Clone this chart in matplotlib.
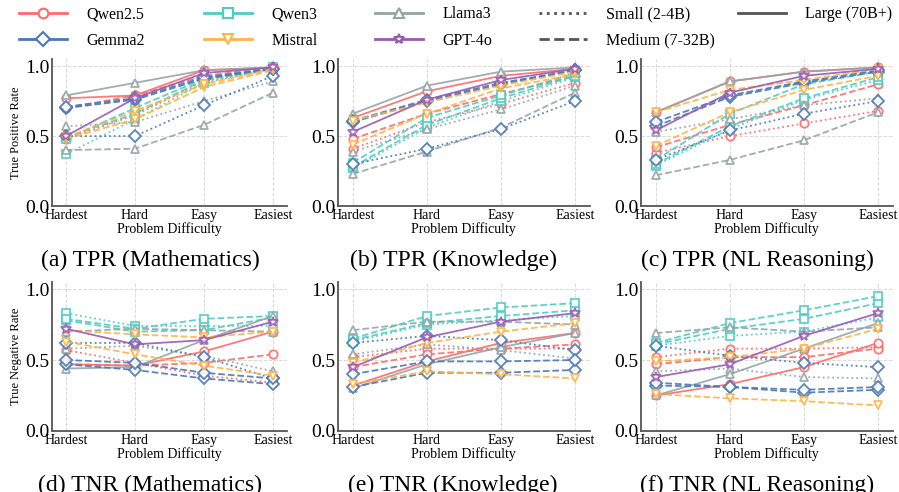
import matplotlib.pyplot as plt
from matplotlib.lines import Line2D

plt.rcParams['font.family'] = ['Liberation Serif', 'DejaVu Serif']

difficulty = ['Hardest', 'Hard', 'Easy', 'Easiest']

# model -> (family, size class)
models = {
    'Qwen2.5-3B':  ('Qwen2.5', 'Small'),
    'Qwen2.5-7B':  ('Qwen2.5', 'Medium'),
    'Qwen2.5-72B': ('Qwen2.5', 'Large'),
    'Qwen3-4B':    ('Qwen3', 'Small'),
    'Qwen3-8B':    ('Qwen3', 'Medium'),
    'Qwen3-32B':   ('Qwen3', 'Medium'),
    'Llama3-3B':   ('Llama3', 'Small'),
    'Llama3-8B':   ('Llama3', 'Medium'),
    'Llama3-70B':  ('Llama3', 'Large'),
    'Gemma2-2B':   ('Gemma2', 'Small'),
    'Gemma2-9B':   ('Gemma2', 'Medium'),
    'Gemma2-27B':  ('Gemma2', 'Medium'),
    'Mistral-7B':  ('Mistral', 'Medium'),
    'Mistral-24B': ('Mistral', 'Medium'),
    'GPT-4o':      ('GPT-4o', 'Large'),
}

tpr_math = {
    'Qwen2.5-3B':  [0.48, 0.65, 0.89, 0.98],
    'Qwen2.5-7B':  [0.70, 0.79, 0.93, 0.99],
    'Qwen2.5-72B': [0.77, 0.79, 0.97, 0.99],
    'Qwen3-4B':    [0.37, 0.62, 0.88, 0.98],
    'Qwen3-8B':    [0.49, 0.66, 0.90, 0.98],
    'Qwen3-32B':   [0.48, 0.70, 0.91, 0.99],
    'Llama3-3B':   [0.57, 0.60, 0.75, 0.89],
    'Llama3-8B':   [0.40, 0.41, 0.58, 0.81],
    'Llama3-70B':  [0.79, 0.88, 0.97, 0.99],
    'Gemma2-2B':   [0.50, 0.50, 0.72, 0.93],
    'Gemma2-9B':   [0.70, 0.76, 0.91, 0.98],
    'Gemma2-27B':  [0.71, 0.77, 0.92, 0.98],
    'Mistral-7B':  [0.48, 0.62, 0.85, 0.97],
    'Mistral-24B': [0.49, 0.68, 0.87, 0.98],
    'GPT-4o':      [0.50, 0.77, 0.95, 0.99],
}

tpr_know = {
    'Qwen2.5-3B':  [0.41, 0.60, 0.73, 0.88],
    'Qwen2.5-7B':  [0.48, 0.66, 0.80, 0.93],
    'Qwen2.5-72B': [0.63, 0.82, 0.93, 0.98],
    'Qwen3-4B':    [0.27, 0.56, 0.75, 0.92],
    'Qwen3-8B':    [0.28, 0.58, 0.77, 0.93],
    'Qwen3-32B':   [0.31, 0.63, 0.79, 0.95],
    'Llama3-3B':   [0.39, 0.55, 0.69, 0.86],
    'Llama3-8B':   [0.23, 0.39, 0.56, 0.81],
    'Llama3-70B':  [0.66, 0.86, 0.96, 0.99],
    'Gemma2-2B':   [0.30, 0.41, 0.55, 0.75],
    'Gemma2-9B':   [0.60, 0.75, 0.87, 0.97],
    'Gemma2-27B':  [0.61, 0.76, 0.88, 0.97],
    'Mistral-7B':  [0.44, 0.66, 0.84, 0.94],
    'Mistral-24B': [0.61, 0.74, 0.86, 0.96],
    'GPT-4o':      [0.53, 0.76, 0.90, 0.98],
}

tpr_nl = {
    'Qwen2.5-3B':  [0.38, 0.50, 0.59, 0.68],
    'Qwen2.5-7B':  [0.42, 0.58, 0.72, 0.87],
    'Qwen2.5-72B': [0.67, 0.89, 0.96, 0.99],
    'Qwen3-4B':    [0.29, 0.55, 0.76, 0.90],
    'Qwen3-8B':    [0.30, 0.57, 0.77, 0.92],
    'Qwen3-32B':   [0.33, 0.66, 0.87, 0.96],
    'Llama3-3B':   [0.53, 0.62, 0.72, 0.77],
    'Llama3-8B':   [0.22, 0.33, 0.47, 0.67],
    'Llama3-70B':  [0.67, 0.89, 0.96, 0.99],
    'Gemma2-2B':   [0.33, 0.54, 0.66, 0.75],
    'Gemma2-9B':   [0.57, 0.78, 0.88, 0.96],
    'Gemma2-27B':  [0.60, 0.79, 0.89, 0.97],
    'Mistral-7B':  [0.43, 0.67, 0.83, 0.93],
    'Mistral-24B': [0.67, 0.83, 0.90, 0.98],
    'GPT-4o':      [0.54, 0.81, 0.93, 0.98],
}

tnr_math = {
    'Qwen2.5-3B':  [0.57, 0.48, 0.39, 0.34],
    'Qwen2.5-7B':  [0.47, 0.46, 0.48, 0.54],
    'Qwen2.5-72B': [0.47, 0.46, 0.56, 0.70],
    'Qwen3-4B':    [0.83, 0.74, 0.74, 0.74],
    'Qwen3-8B':    [0.78, 0.70, 0.71, 0.80],
    'Qwen3-32B':   [0.79, 0.72, 0.79, 0.81],
    'Llama3-3B':   [0.58, 0.60, 0.53, 0.42],
    'Llama3-8B':   [0.70, 0.72, 0.71, 0.70],
    'Llama3-70B':  [0.44, 0.45, 0.64, 0.81],
    'Gemma2-2B':   [0.62, 0.62, 0.52, 0.37],
    'Gemma2-9B':   [0.47, 0.43, 0.37, 0.33],
    'Gemma2-27B':  [0.50, 0.48, 0.41, 0.37],
    'Mistral-7B':  [0.63, 0.54, 0.46, 0.39],
    'Mistral-24B': [0.71, 0.68, 0.66, 0.70],
    'GPT-4o':      [0.72, 0.61, 0.64, 0.77],
}

tnr_know = {
    'Qwen2.5-3B':  [0.52, 0.58, 0.58, 0.58],
    'Qwen2.5-7B':  [0.45, 0.54, 0.58, 0.61],
    'Qwen2.5-72B': [0.32, 0.49, 0.62, 0.69],
    'Qwen3-4B':    [0.63, 0.75, 0.78, 0.81],
    'Qwen3-8B':    [0.64, 0.76, 0.81, 0.85],
    'Qwen3-32B':   [0.65, 0.81, 0.87, 0.90],
    'Llama3-3B':   [0.54, 0.61, 0.57, 0.51],
    'Llama3-8B':   [0.71, 0.77, 0.77, 0.75],
    'Llama3-70B':  [0.30, 0.47, 0.59, 0.69],
    'Gemma2-2B':   [0.62, 0.67, 0.64, 0.57],
    'Gemma2-9B':   [0.31, 0.41, 0.41, 0.43],
    'Gemma2-27B':  [0.40, 0.49, 0.49, 0.50],
    'Mistral-7B':  [0.33, 0.42, 0.40, 0.37],
    'Mistral-24B': [0.48, 0.62, 0.70, 0.76],
    'GPT-4o':      [0.45, 0.66, 0.77, 0.83],
}

tnr_nl = {
    'Qwen2.5-3B':  [0.52, 0.58, 0.58, 0.59],
    'Qwen2.5-7B':  [0.47, 0.52, 0.52, 0.58],
    'Qwen2.5-72B': [0.25, 0.33, 0.45, 0.62],
    'Qwen3-4B':    [0.60, 0.67, 0.70, 0.80],
    'Qwen3-8B':    [0.61, 0.72, 0.79, 0.90],
    'Qwen3-32B':   [0.62, 0.76, 0.85, 0.95],
    'Llama3-3B':   [0.42, 0.44, 0.38, 0.37],
    'Llama3-8B':   [0.69, 0.73, 0.70, 0.73],
    'Llama3-70B':  [0.25, 0.40, 0.58, 0.76],
    'Gemma2-2B':   [0.60, 0.53, 0.48, 0.45],
    'Gemma2-9B':   [0.32, 0.31, 0.27, 0.29],
    'Gemma2-27B':  [0.34, 0.31, 0.29, 0.31],
    'Mistral-7B':  [0.26, 0.23, 0.21, 0.18],
    'Mistral-24B': [0.49, 0.52, 0.58, 0.72],
    'GPT-4o':      [0.38, 0.47, 0.67, 0.83],
}

family_color = {
    'Qwen2.5': '#FF6B6B',
    'Qwen3':   '#4ECDC4',
    'Llama3':  '#95A5A6',
    'Gemma2':  '#4A78B4',
    'Mistral': '#FFB347',
    'GPT-4o':  '#9B59B6',
}
family_marker = {
    'Qwen2.5': 'o', 'Qwen3': 's', 'Llama3': '^',
    'Gemma2': 'D', 'Mistral': 'v', 'GPT-4o': '*',
}
size_style = {'Small': ':', 'Medium': '--', 'Large': '-'}
size_label = {'Small': 'Small (2-4B)', 'Medium': 'Medium (7-32B)', 'Large': 'Large (70B+)'}

panels = [
    (tpr_math, '(a) TPR (Mathematics)', 'True Positive Rate'),
    (tpr_know, '(b) TPR (Knowledge)', None),
    (tpr_nl, '(c) TPR (NL Reasoning)', None),
    (tnr_math, '(d) TNR (Mathematics)', 'True Negative Rate'),
    (tnr_know, '(e) TNR (Knowledge)', None),
    (tnr_nl, '(f) TNR (NL Reasoning)', None),
]

fig = plt.figure(figsize=(8.99, 4.92), dpi=100)

col_left = [0.058, 0.376, 0.713]
col_width = [0.261, 0.280, 0.280]
row_bottom = [0.581, 0.124]
row_height = [0.299, 0.303]
caption_x = [0.167, 0.504, 0.842]
caption_y = [0.471, 0.014]

for i, (data, caption, ylabel) in enumerate(panels):
    r, c = divmod(i, 3)
    ax = fig.add_axes([col_left[c], row_bottom[r], col_width[c], row_height[r]])
    x = range(len(difficulty))
    for name, (fam, size) in models.items():
        ax.plot(x, data[name], linestyle=size_style[size], color=family_color[fam],
                marker=family_marker[fam], markersize=7.5 if fam == 'GPT-4o' else 6,
                markerfacecolor='white', markeredgewidth=1.3,
                linewidth=1.3, alpha=0.9)
    ax.set_xlim(-0.2, 3.2)
    ax.set_ylim(0, 1.05)
    ax.set_xticks(list(x))
    ax.set_xticklabels(difficulty, fontsize=10)
    ax.set_yticks([0.0, 0.5, 1.0])
    ax.set_yticklabels(['0.0', '0.5', '1.0'], fontsize=14)
    ax.tick_params(length=0, pad=2)
    ax.grid(True, linestyle='--', color='#d9d9d9', linewidth=0.7)
    ax.set_axisbelow(True)
    for s in ['top', 'right']:
        ax.spines[s].set_visible(False)
    for s in ['left', 'bottom']:
        ax.spines[s].set_color('#555555')
        ax.spines[s].set_linewidth(1.3)
    ax.set_xlabel('Problem Difficulty', fontsize=10, labelpad=0)
    if ylabel:
        ax.set_ylabel(ylabel, fontsize=9, labelpad=2)
    fig.text(caption_x[c], caption_y[r], caption, ha='center', va='center', fontsize=17)

# legend: families, then size classes, laid out as five columns
def family_handle(fam):
    return Line2D([], [], color=family_color[fam], marker=family_marker[fam],
                  markersize=7, markerfacecolor='white', markeredgewidth=1.5,
                  linewidth=2, label=fam)

def size_handle(size):
    return Line2D([], [], color='#555555', linestyle=size_style[size],
                  linewidth=2, label=size_label[size])

legend_cols = [
    [family_handle('Qwen2.5'), family_handle('Gemma2')],
    [family_handle('Qwen3'), family_handle('Mistral')],
    [family_handle('Llama3'), family_handle('GPT-4o')],
    [size_handle('Small'), size_handle('Medium')],
    [size_handle('Large')],
]
legend_x = [13, 198, 369, 533, 732]

for hs, lx in zip(legend_cols, legend_x):
    fig.legend(handles=hs, loc='upper left', bbox_to_anchor=(lx / 899, 1.0),
               frameon=False, fontsize=11.5, handlelength=3, handletextpad=1.2,
               labelspacing=0.65, borderaxespad=0)

fig.savefig('out.png', dpi=100)
